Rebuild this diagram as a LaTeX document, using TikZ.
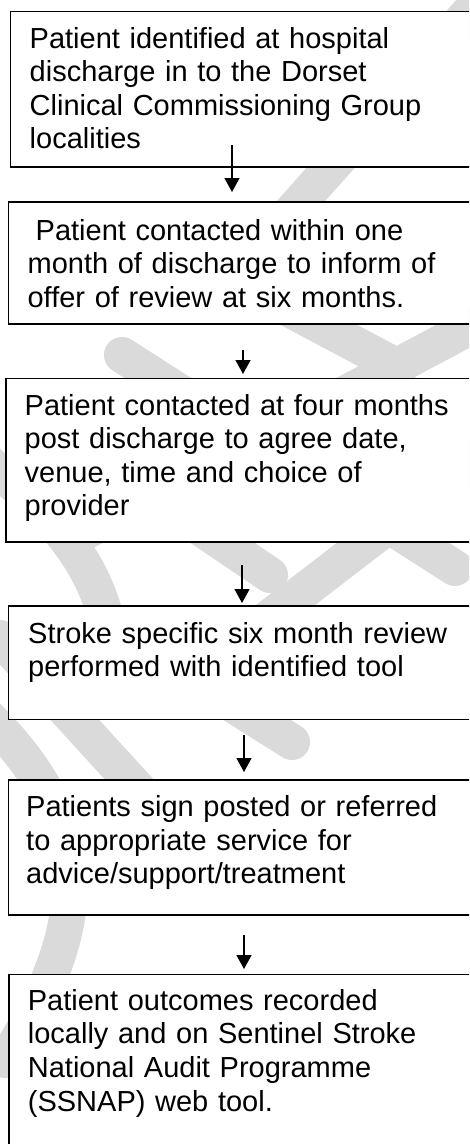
\documentclass[tikz,border=0pt]{standalone}
\usepackage{fontspec}
\setmainfont{Liberation Sans}
\usetikzlibrary{arrows.meta}
\definecolor{wm}{RGB}{218,218,218}
\tikzset{
  wmstroke/.style={draw=wm, line width=36pt, line cap=round, line join=round},
  stepbox/.style={draw=black, line width=1.6pt, fill=white, inner sep=0pt, outer sep=0pt, anchor=north west},
  txt/.style={anchor=base west, inner sep=0pt, text width=440pt, align=left,
              font=\fontsize{29}{33.5}\selectfont},
  flow/.style={-{Triangle[width=15pt,length=14pt]}, line width=1.3pt, draw=black}
}
\begin{document}
\begin{tikzpicture}[x=1pt,y=-1pt]
\useasboundingbox (0,0) rectangle (469,1144);
\clip (0,0) rectangle (469,1144);
\fill[white] (0,0) rectangle (469,1144);
% watermark strokes
\draw[wmstroke] (525,-50) -- (235,275);
\draw[wmstroke] (122,355) -- (455,568);
\draw[wmstroke] (540,290) -- (70,540);
\draw[wmstroke] (240,283) -- (400,368);
\draw[wmstroke] (560,394) -- (240,640);
\draw[wmstroke] (100,460) -- (270,575);
\draw[wmstroke] (-15,460) .. controls (60,520) and (100,570) .. (110,640);
\draw[wmstroke] (130,640) -- (292,742);
\draw[wmstroke] (0,638) -- (180,835);
\draw[wmstroke] (-30,700) .. controls (80,800) and (110,900) .. (5,1060);
% boxes
\node[stepbox, minimum width=470.5pt, minimum height=155.2pt] (b1) at (10.5,11.5) {};
\node[stepbox, minimum width=472pt, minimum height=122.3pt] (b2) at (8.3,201.7) {};
\node[stepbox, minimum width=474pt, minimum height=163.4pt] (b3) at (6,378.3) {};
\node[stepbox, minimum width=472pt, minimum height=113.3pt] (b4) at (8.3,606) {};
\node[stepbox, minimum width=472pt, minimum height=135pt] (b5) at (8.3,780) {};
\node[stepbox, minimum width=471pt, minimum height=196pt] (b6) at (9,974.3) {};
% texts
\node[txt] (t1) at (29.5,48.3) {Patient identified at hospital\\discharge in to the Dorset\\Clinical Commissioning Group\\localities};
\node[txt] (t2) at (27.4,240) {\hspace*{0.278em}Patient contacted within one\\month of discharge to inform of\\offer of review at six months.};
\node[txt] (t3) at (24.5,415) {Patient contacted at four months\\post discharge to agree date,\\venue, time and choice of\\provider};
\node[txt] (t4) at (28,643.3) {Stroke specific six month review\\performed with identified tool};
\node[txt] (t5) at (26,816.7) {Patients sign posted or referred\\to appropriate service for\\advice/support/treatment};
\node[txt, font=\fontsize{29}{33.9}\selectfont] (t6) at (27.7,1010) {Patient outcomes recorded\\locally and on Sentinel Stroke\\National Audit Programme\\(SSNAP) web tool.};
% arrows
\coordinate (a1s) at (232,145);  \coordinate (a1e) at (232,192);
\coordinate (a2s) at (243,350);  \coordinate (a2e) at (243,374);
\coordinate (a3s) at (242,565);  \coordinate (a3e) at (242,603);
\coordinate (a4s) at (244,735);  \coordinate (a4e) at (244,772);
\coordinate (a5s) at (244,935);  \coordinate (a5e) at (244,969);
\draw[flow] (a1s) -- (a1e);
\draw[flow] (a2s) -- (a2e);
\draw[flow] (a3s) -- (a3e);
\draw[flow] (a4s) -- (a4e);
\draw[flow] (a5s) -- (a5e);
\end{tikzpicture}
\end{document}
